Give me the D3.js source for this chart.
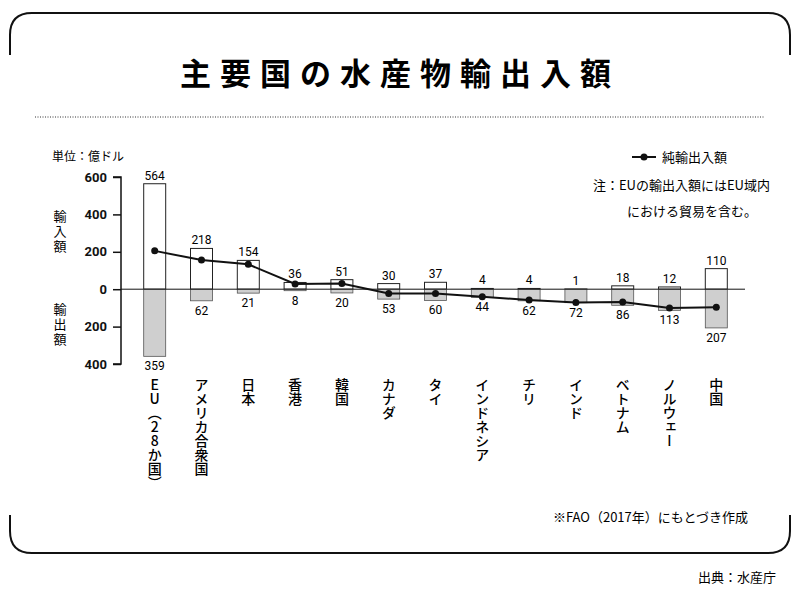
<!DOCTYPE html>
<html><head><meta charset="utf-8">
<script src="https://cdn.jsdelivr.net/npm/d3@7"></script>
<style>
body{margin:0;background:#fff;font-family:"Noto Sans CJK JP","Noto Sans",sans-serif;}
.cat{writing-mode:vertical-rl;text-orientation:upright;}
</style></head>
<body><div id="chart"></div>
<script>
// values in 億ドル
const countries = ["EU（28か国）","アメリカ合衆国","日本","香港","韓国","カナダ","タイ","インドネシア","チリ","インド","ベトナム","ノルウェー","中国"];
const imports = [564,218,154,36,51,30,37,4,4,1,18,12,110];
const exports = [359,62,21,8,20,53,60,44,62,72,86,113,207];
const yTicks = [600,400,200,0,-200,-400];

const W = 800, H = 591;
const svg = d3.select("#chart").append("svg").attr("width", W).attr("height", H);
const font = '"Noto Sans CJK JP",sans-serif';

// frame
svg.append("path").attr("d","M10,55 L10,35 Q10,13 32,13 L768,13 Q790,13 790,35 L790,55")
  .attr("fill","none").attr("stroke","#111").attr("stroke-width",2);
svg.append("path").attr("d","M10,515 L10,531 Q10,553 32,553 L768,553 Q790,553 790,531 L790,515")
  .attr("fill","none").attr("stroke","#111").attr("stroke-width",2);
svg.append("text").attr("x",400).attr("y",85).attr("text-anchor","middle")
  .style("font-family",font).style("font-size","31px").style("font-weight","bold")
  .style("letter-spacing","9px").text("主要国の水産物輸出入額");
svg.append("line").attr("x1",35).attr("x2",765).attr("y1",117).attr("y2",117)
  .attr("stroke","#333").attr("stroke-dasharray","1,1.5");

const y = d3.scaleLinear().domain([-400,600]).range([364,177]);
const x = d3.scaleBand().domain(countries).range([132,739]).paddingInner(0.53).paddingOuter(0.25);

// axis
const ax = svg.append("g").attr("transform","translate(121,0)")
  .call(d3.axisLeft(y).tickValues(yTicks).tickSize(8).tickFormat(d => Math.abs(d)));
ax.select(".domain").attr("stroke","#111").attr("stroke-width",1.5).attr("d","M-8,177H0V364H-8");
ax.selectAll(".tick line").attr("stroke","#111").attr("stroke-width",1.5);
ax.selectAll(".tick text").attr("x",-14).style("font-family","Roboto,sans-serif")
  .style("font-size","13px").style("font-weight","bold").attr("fill","#111");

svg.append("line").attr("x1",121).attr("x2",745).attr("y1",y(0)).attr("y2",y(0)).attr("stroke","#111");

svg.append("text").attr("x",52).attr("y",161).style("font-family",font).style("font-size","12px").text("単位：億ドル");
["輸入額","輸出額"].forEach((s,k) => {
  s.split("").forEach((c,i) => svg.append("text").attr("x",60).attr("y",(k?314:221)+i*15)
    .attr("text-anchor","middle").style("font-family",font).style("font-size","13px").text(c));
});

// bars
const bw = x.bandwidth();
svg.selectAll(".exp").data(countries).enter().append("rect")
  .attr("x",d=>x(d)).attr("y",y(0)).attr("width",bw)
  .attr("height",(d,i)=>y(-exports[i])-y(0))
  .attr("fill","#cfcfcf").attr("stroke","#555").attr("stroke-width",0.8);
svg.selectAll(".imp").data(countries).enter().append("rect")
  .attr("x",d=>x(d)).attr("y",(d,i)=>y(imports[i])).attr("width",bw)
  .attr("height",(d,i)=>y(0)-y(imports[i]))
  .attr("fill","none").attr("stroke","#222").attr("stroke-width",1);

svg.selectAll(".il").data(countries).enter().append("text")
  .attr("x",d=>x(d)+bw/2).attr("y",(d,i)=>y(imports[i])-4).attr("text-anchor","middle")
  .style("font-family","Roboto,sans-serif").style("font-size","12px").text((d,i)=>imports[i]);
svg.selectAll(".el").data(countries).enter().append("text")
  .attr("x",d=>x(d)+bw/2).attr("y",(d,i)=>y(-exports[i])+14).attr("text-anchor","middle")
  .style("font-family","Roboto,sans-serif").style("font-size","12px").text((d,i)=>exports[i]);

// net line
const net = countries.map((d,i)=>({c:d,v:imports[i]-exports[i]}));
svg.append("path").datum(net).attr("fill","none").attr("stroke","#111").attr("stroke-width",2)
  .attr("d",d3.line().x(d=>x(d.c)+bw/2).y(d=>y(d.v)));
svg.selectAll(".dot").data(net).enter().append("circle")
  .attr("cx",d=>x(d.c)+bw/2).attr("cy",d=>y(d.v)).attr("r",3.5).attr("fill","#111");

// category labels
svg.selectAll(".cat").data(countries).enter().append("text").attr("class","cat")
  .attr("x",d=>x(d)+bw/2).attr("y",378)
  .style("font-family",font).style("font-size","14px").style("font-weight","500").text(d=>d);

// legend and notes
svg.append("line").attr("x1",632).attr("x2",656).attr("y1",157).attr("y2",157).attr("stroke","#111").attr("stroke-width",2);
svg.append("circle").attr("cx",644).attr("cy",157).attr("r",3.5).attr("fill","#111");
svg.append("text").attr("x",662).attr("y",162).style("font-family",font).style("font-size","13px").text("純輸出入額");
svg.append("text").attr("x",770).attr("y",190).attr("text-anchor","end").style("font-family",font).style("font-size","13px").text("注：EUの輸出入額にはEU域内");
svg.append("text").attr("x",757).attr("y",216).attr("text-anchor","end").style("font-family",font).style("font-size","13px").text("における貿易を含む。");
svg.append("text").attr("x",748).attr("y",522).attr("text-anchor","end").style("font-family",font).style("font-size","13px").text("※FAO（2017年）にもとづき作成");
svg.append("text").attr("x",776).attr("y",582).attr("text-anchor","end").style("font-family",font).style("font-size","13px").text("出典：水産庁");
</script></body></html>
